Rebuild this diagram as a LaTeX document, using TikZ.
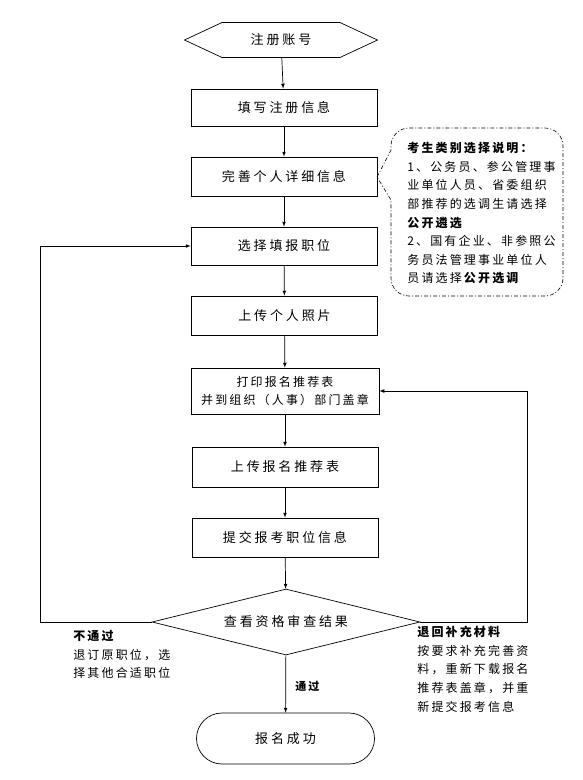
\documentclass[tikz,border=0pt]{standalone}
\usepackage{fontspec}
\newfontfamily\boxfont[LetterSpace=22]{Noto Sans CJK SC}
\newfontfamily\notefont[LetterSpace=18]{Noto Sans CJK SC}
\usetikzlibrary{arrows,shapes.geometric,shapes.symbols,shapes.misc}

\begin{document}
\begin{tikzpicture}[x=1pt, y=-1pt, >= latex, line width=0.7pt,
  stepbox/.style={draw, rectangle, minimum width=186, minimum height=38,
    inner sep=0pt, align=center, font=\boxfont\fontsize{13}{18}\selectfont},
  notetext/.style={align=left, inner sep=0pt, anchor=north west,
    font=\notefont\fontsize{12}{18.6}\selectfont},
  notebox/.style={draw, line width=0.6pt, dash pattern=on 4pt off 2pt on 1pt off 2pt}]
\useasboundingbox (0,0) rectangle (583,780);
\draw (281,40) node[draw, signal, signal to=east and west, signal pointer angle=50,
  minimum width=193, minimum height=35, inner sep=0pt,
  font=\boxfont\fontsize{13}{14}\selectfont] (reg) {注册账号};
%
\draw (284,107.5) node[stepbox, minimum height=37] (info) {填写注册信息};
\path[draw, ->] (reg) -- (info);
%
\draw (284,176.5) node[stepbox, minimum height=39] (detail) {完善个人详细信息};
\path[draw, ->] (info) -- (detail);
%
\draw (284,246) node[stepbox] (post) {选择填报职位};
\path[draw, ->] (detail) -- (post);
%
\draw (284.5,315.5) node[stepbox, minimum height=39] (photo) {上传个人照片};
\path[draw, ->] (post) -- (photo);
%
\draw (285,391) node[stepbox, minimum width=188, minimum height=46,
  font=\notefont\fontsize{12}{18}\selectfont] (print)
  {打印报名推荐表\\并到组织（人事）部门盖章};
\path[draw, ->] (photo) -- (print);
%
\draw (285,467) node[stepbox, minimum height=40] (upform) {上传报名推荐表};
\path[draw, ->] (print) -- (upform);
%
\draw (285,537.5) node[stepbox, minimum height=39] (submit) {提交报考职位信息};
\path[draw, ->] (upform) -- (submit);
%
\draw (286,622) node[draw, diamond, aspect=4, minimum width=268, minimum height=66,
  inner sep=0pt, font=\boxfont\fontsize{13}{14}\selectfont] (check) {查看资格审查结果};
\path[draw, ->] (submit) -- (check);
%
\draw (285.5,738.5) node[draw, rounded rectangle, minimum width=178, minimum height=51,
  inner sep=0pt, font=\boxfont\fontsize{13}{14}\selectfont] (done) {报名成功};
\path[draw, ->] (check) -- node[right, xshift=6, yshift=-2,
  font=\notefont\fontsize{11}{12}\selectfont\bfseries]{通过} (done);
%
\coordinate (lft) at (40,622);
\path[draw, ->] (check.west) -- (lft) |- (post.west);
\coordinate (rgt) at (527,622);
\path[draw, ->] (check.east) -- (rgt) |- (print.east);
%
\draw (73,630) node[notetext] (fail)
  {\textbf{不通过}\\退订原职位，选\\择其他合适职位};
\draw (417,626) node[notetext] (back)
  {\textbf{退回补充材料}\\按要求补充完善资\\料，重新下载报名\\推荐表盖章，并重\\新提交报考信息};
%
\draw[notebox] (377,177) -- (391,150) [rounded corners=18] -- (391,128) -- (563,128)
  -- (563,296) -- (391,296) [sharp corners] -- (391,200) -- cycle;
\draw (407,142) node[notetext] (note)
  {\textbf{考生类别选择说明：}\\1、公务员、参公管理事\\业单位人员、省委组织\\部推荐的选调生请选择\\\textbf{公开遴选}\\2、国有企业、非参照公\\务员法管理事业单位人\\员请选择\textbf{公开选调}};
\end{tikzpicture}
\end{document}
